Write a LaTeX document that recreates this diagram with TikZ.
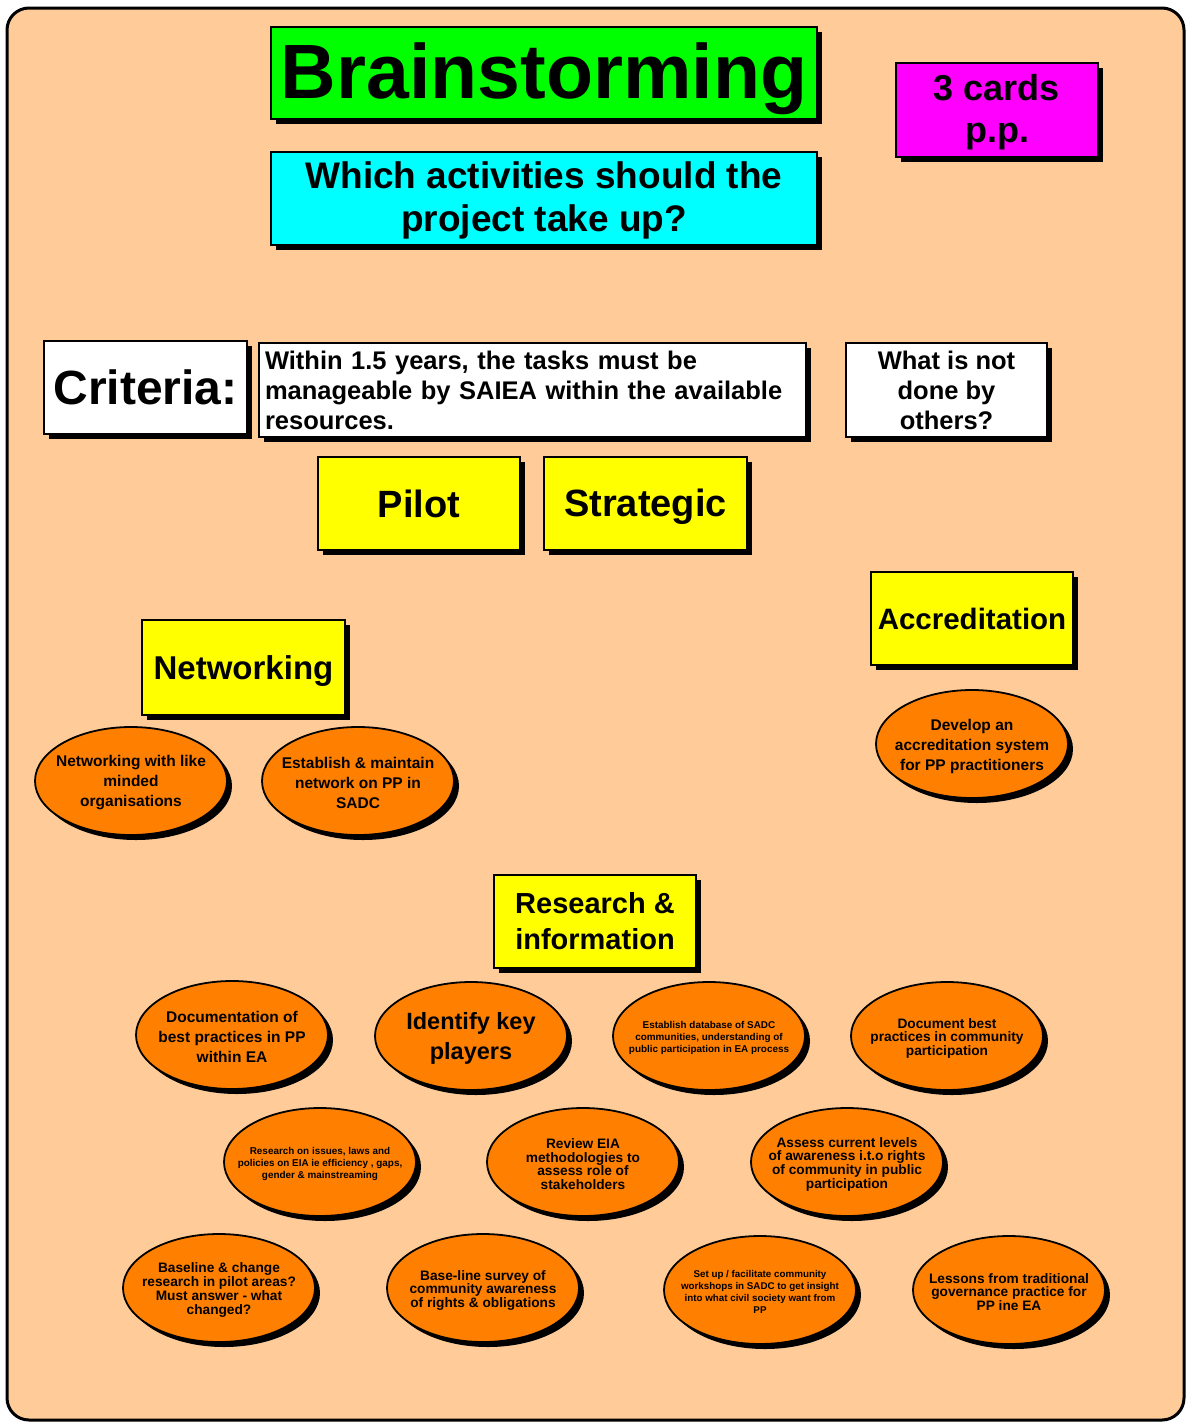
\documentclass[tikz,border=0pt]{standalone}
\usepackage{fontspec}
\setmainfont{Liberation Sans}
\usetikzlibrary{shapes.geometric,shadows}
\definecolor{peach}{HTML}{FFCC99}
\definecolor{cardorange}{HTML}{FF8000}
\definecolor{cardyellow}{HTML}{FFFF00}
\definecolor{cardgreen}{HTML}{00FF00}
\definecolor{cardcyan}{HTML}{00FFFF}
\definecolor{cardmagenta}{HTML}{FF00FF}
\newcommand{\fs}[2]{\bfseries\fontsize{#1}{#2}\selectfont}
% lower a text inside its card without changing the card's size
\newcommand{\lowered}[2]{\raisebox{-#1}[\height][\depth]{#2}}
\newcommand{\lines}[1]{\begin{tabular}{@{}c@{}}#1\end{tabular}}
\tikzset{
  card/.style={rectangle, draw=black, line width=1.3pt, inner sep=0pt, align=center,
    drop shadow={shadow xshift=4.5pt, shadow yshift=-4.5pt, opacity=1, fill=black}},
  bubble/.style={ellipse, draw=black, line width=1.8pt, fill=cardorange, inner sep=0pt,
    minimum width=192pt, minimum height=108pt,
    drop shadow={shadow xshift=5pt, shadow yshift=-5pt, opacity=1, fill=black}},
  bubbletext/.style={inner sep=0pt, align=center, text=black, yshift=-2pt},
}
\begin{document}
\begin{tikzpicture}[x=1pt, y=-1pt]
  \useasboundingbox (0,0) rectangle (1186,1422);
  % board
  \draw[line width=3pt, fill=peach, rounded corners=22pt] (7,8) rectangle (1184,1420);

  % header cards
  \node[card, fill=cardgreen, minimum width=546pt, minimum height=92pt, font=\fs{77}{80}]
    (title) at (544,73) {\lowered{6pt}{Brainstorming}};
  \node[card, fill=cardcyan, minimum width=546pt, minimum height=93pt, font=\fs{37}{43}]
    (question) at (544,198.5) {\lowered{3pt}{\lines{Which activities should the\\project take up?}}};
  \node[card, fill=cardmagenta, minimum width=202pt, minimum height=94pt, font=\fs{36}{42}]
    (cards) at (997,110) {\lowered{3pt}{\lines{3 cards\\p.p.}}};

  % criteria row
  \node[card, fill=white, minimum width=203pt, minimum height=93pt, font=\fs{48}{50}]
    (criteria) at (145.5,387.5) {Criteria:};
  \node[card, fill=white, text width=535pt, inner xsep=6pt, minimum height=94pt, align=left,
    font=\fs{25.5}{30}]
    (within) at (532.5,390) {Within 1.5 years, the tasks must be\\manageable by SAIEA within the available\\resources.};
  \node[card, fill=white, minimum width=201pt, minimum height=94pt, font=\fs{25.5}{30}]
    (others) at (946.5,390) {What is not\\done by\\others?};

  % category cards
  \node[card, fill=cardyellow, minimum width=202pt, minimum height=93pt, font=\fs{38}{42}]
    (pilot) at (419,503.5) {Pilot};
  \node[card, fill=cardyellow, minimum width=203pt, minimum height=93pt, font=\fs{38}{42}]
    (strategic) at (645.5,503.5) {\lowered{3pt}{Strategic}};
  \node[card, fill=cardyellow, minimum width=202pt, minimum height=93pt, font=\fs{29.5}{34}]
    (accr) at (972,618.5) {Accreditation};
  \node[card, fill=cardyellow, minimum width=203pt, minimum height=95pt, font=\fs{33}{36}]
    (netw) at (243.5,667.5) {\lowered{4pt}{Networking}};
  \node[card, fill=cardyellow, minimum width=202pt, minimum height=93pt, font=\fs{29}{36}]
    (research) at (595,921.5) {Research \&\\information};

  % networking ideas
  \node[bubble] (n1) at (131,781) {};
  \node[bubbletext, font=\fs{15.5}{20}] at (n1) {Networking with like\\minded\\organisations};
  \node[bubble] (n2) at (358,781) {};
  \node[bubbletext, font=\fs{15.5}{20}] at (n2) {Establish \& maintain\\network on PP in\\SADC};

  % accreditation idea
  \node[bubble] (a1) at (972,744) {};
  \node[bubbletext, font=\fs{15.5}{20}] at (a1) {Develop an\\accreditation system\\for PP practitioners};

  % research ideas, first row
  \node[bubble] (r1) at (232,1035) {};
  \node[bubbletext, font=\fs{15.5}{20}] at (r1) {Documentation of\\best practices in PP\\within EA};
  \node[bubble] (r2) at (471,1036) {};
  \node[bubbletext, font=\fs{23.5}{30}] at (r2) {Identify key\\players};
  \node[bubble] (r3) at (709,1036) {};
  \node[bubbletext, font=\fs{9.9}{12}] at (r3) {Establish database of SADC\\communities, understanding of\\public participation in EA process};
  \node[bubble] (r4) at (947,1036) {};
  \node[bubbletext, font=\fs{13.7}{13.5}] at (r4) {Document best\\practices in community\\participation};

  % research ideas, second row
  \node[bubble] (r5) at (320,1162) {};
  \node[bubbletext, font=\fs{9.9}{12}] at (r5) {Research on issues, laws and\\policies on EIA ie efficiency , gaps,\\gender \& mainstreaming};
  \node[bubble] (r6) at (583,1162) {};
  \node[bubbletext, font=\fs{13.7}{13.7}] at (r6) {Review EIA\\methodologies to\\assess role of\\stakeholders};
  \node[bubble] (r7) at (847,1162) {};
  \node[bubbletext, font=\fs{13.7}{13.7}] at (r7) {Assess current levels\\of awareness i.t.o rights\\of community in public\\participation};

  % research ideas, third row
  \node[bubble] (r8) at (219,1288) {};
  \node[bubbletext, font=\fs{13.7}{13.7}] at (r8) {Baseline \& change\\research in pilot areas?\\Must answer - what\\changed?};
  \node[bubble] (r9) at (483,1288) {};
  \node[bubbletext, font=\fs{13.7}{13.5}] at (r9) {Base-line survey of\\community awareness\\of rights \& obligations};
  \node[bubble] (r10) at (760,1290) {};
  \node[bubbletext, font=\fs{9.8}{12}] at (r10) {Set up / facilitate community\\workshops in SADC to get insight\\into what civil society want from\\PP};
  \node[bubble] (r11) at (1009,1290) {};
  \node[bubbletext, font=\fs{13.7}{13.5}] at (r11) {Lessons from traditional\\governance practice for\\PP ine EA};
\end{tikzpicture}
\end{document}
